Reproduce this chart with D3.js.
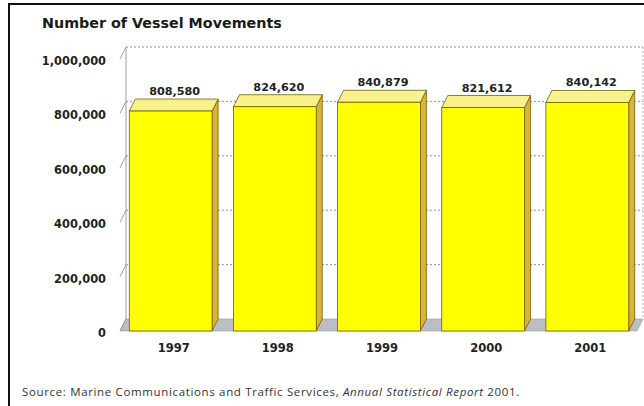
<!DOCTYPE html>
<html>
<head>
<meta charset="utf-8">
<script src="https://cdn.jsdelivr.net/npm/d3@7/dist/d3.min.js"></script>
<style>
  html, body { margin: 0; padding: 0; background: #fff; }
  svg { display: block; }
</style>
</head>
<body>
<svg id="chart" width="644" height="406"></svg>
<script>
// Annual vessel movements, 1997-2001
const years = ["1997", "1998", "1999", "2000", "2001"];
const movements = [808580, 824620, 840879, 821612, 840142];
const yTicks = [0, 200000, 400000, 600000, 800000, 1000000];
const yTickLabels = ["0", "200,000", "400,000", "600,000", "800,000", "1,000,000"];
const valueLabels = ["808,580", "824,620", "840,879", "821,612", "840,142"];

const svg = d3.select("#chart");
const W = 644, H = 406;

// depth offset of the pseudo-3D box (front plane -> back wall)
const depthX = 6, depthY = -12;

const x = d3.scaleBand()
  .domain(years)
  .range([122, 636])
  .paddingInner(0.205)
  .paddingOuter(0.07);

const y = d3.scaleLinear().domain([0, 1000000]).range([331, 59]);

const frontLeft = 120, frontRight = 637;
const backLeft = frontLeft + depthX, backRight = frontRight + depthX;

// outer frame (left and top rule)
svg.append("path")
  .attr("d", `M9,${H} L9,4 L${W},4`)
  .attr("fill", "none").attr("stroke", "#111").attr("stroke-width", 2);

// title
svg.append("text")
  .attr("x", 42).attr("y", 28)
  .attr("font-family", "DejaVu Sans, Verdana, sans-serif")
  .attr("font-weight", "bold").attr("font-size", 14.3)
  .attr("fill", "#1a1a1a")
  .text("Number of Vessel Movements");

// back wall
const wall = svg.append("g");
wall.append("rect")
  .attr("x", backLeft).attr("y", y(1000000) + depthY)
  .attr("width", backRight - backLeft)
  .attr("height", y(0) - y(1000000))
  .attr("fill", "#fff");

// gridlines on the back wall
wall.selectAll("line.grid")
  .data(yTicks.slice(1))
  .join("line")
  .attr("class", "grid")
  .attr("x1", backLeft).attr("x2", backRight)
  .attr("y1", d => y(d) + depthY).attr("y2", d => y(d) + depthY)
  .attr("stroke", "#777").attr("stroke-width", 0.8)
  .attr("stroke-dasharray", "2,2");

// wall edges
wall.append("line")
  .attr("x1", backLeft).attr("x2", backLeft)
  .attr("y1", y(1000000) + depthY).attr("y2", y(0) + depthY)
  .attr("stroke", "#888").attr("stroke-width", 0.8);
wall.append("line")
  .attr("x1", backRight).attr("x2", backRight)
  .attr("y1", y(1000000) + depthY).attr("y2", y(0) + depthY)
  .attr("stroke", "#999").attr("stroke-width", 0.8)
  .attr("stroke-dasharray", "2,2");

// floor
svg.append("path")
  .attr("d", `M${frontLeft},${y(0)} L${frontRight},${y(0)} L${backRight},${y(0) + depthY} L${backLeft},${y(0) + depthY} Z`)
  .attr("fill", "#bdbdc4").attr("stroke", "#9a9aa2").attr("stroke-width", 0.6);

// axis tick marks (depth strokes at the left edge)
svg.selectAll("line.tick")
  .data(yTicks)
  .join("line")
  .attr("class", "tick")
  .attr("x1", frontLeft).attr("y1", d => y(d))
  .attr("x2", backLeft).attr("y2", d => y(d) + depthY)
  .attr("stroke", "#888").attr("stroke-width", 0.8);

// tick labels
svg.selectAll("text.ylab")
  .data(yTicks)
  .join("text")
  .attr("class", "ylab")
  .attr("x", 106).attr("y", d => y(d) + 2)
  .attr("dy", "0.35em")
  .attr("text-anchor", "end")
  .attr("font-family", "DejaVu Sans, Verdana, sans-serif")
  .attr("font-weight", "bold").attr("font-size", 11.4)
  .attr("fill", "#222")
  .text((d, i) => yTickLabels[i]);

// bars
const data = years.map((yr, i) => ({ yr, v: movements[i], label: valueLabels[i] }));
const bars = svg.selectAll("g.bar").data(data).join("g").attr("class", "bar");
const bw = x.bandwidth();
const edge = "#6e6200";

bars.append("path") // side face
  .attr("d", d => {
    const x1 = x(d.yr) + bw, yt = y(d.v), yb = y(0);
    return `M${x1},${yt} L${x1 + depthX},${yt + depthY} L${x1 + depthX},${yb + depthY} L${x1},${yb} Z`;
  })
  .attr("fill", "#d8b43c").attr("stroke", edge).attr("stroke-width", 0.8);

bars.append("path") // top face
  .attr("d", d => {
    const x0 = x(d.yr), yt = y(d.v);
    return `M${x0},${yt} L${x0 + depthX},${yt + depthY} L${x0 + bw + depthX},${yt + depthY} L${x0 + bw},${yt} Z`;
  })
  .attr("fill", "#f7f28c").attr("stroke", edge).attr("stroke-width", 0.8);

bars.append("rect") // front face
  .attr("x", d => x(d.yr)).attr("y", d => y(d.v))
  .attr("width", bw).attr("height", d => y(0) - y(d.v))
  .attr("fill", "#ffff00").attr("stroke", edge).attr("stroke-width", 0.8);

// value labels above bars
bars.append("text")
  .attr("x", d => x(d.yr) + bw / 2 + depthX / 2 + 1)
  .attr("y", d => y(d.v) + depthY - 4)
  .attr("text-anchor", "middle")
  .attr("font-family", "DejaVu Sans, Verdana, sans-serif")
  .attr("font-weight", "bold").attr("font-size", 11.2)
  .attr("fill", "#222")
  .text(d => d.label);

// year labels
svg.selectAll("text.xlab")
  .data(years)
  .join("text")
  .attr("class", "xlab")
  .attr("x", d => x(d) + bw / 2 + 3)
  .attr("y", 352)
  .attr("text-anchor", "middle")
  .attr("font-family", "DejaVu Sans, Verdana, sans-serif")
  .attr("font-weight", "bold").attr("font-size", 11.5)
  .attr("fill", "#222")
  .text(d => d);

// source note
const src = svg.append("text")
  .attr("x", 22).attr("y", 396)
  .attr("font-family", "Open Sans, sans-serif")
  .attr("font-size", 11.5)
  .attr("letter-spacing", 0.65)
  .attr("fill", "#333");
src.append("tspan").text("Source: Marine Communications and Traffic Services, ");
src.append("tspan").attr("font-style", "italic").text("Annual Statistical Report");
src.append("tspan").text(" 2001.");
</script>
</body>
</html>
